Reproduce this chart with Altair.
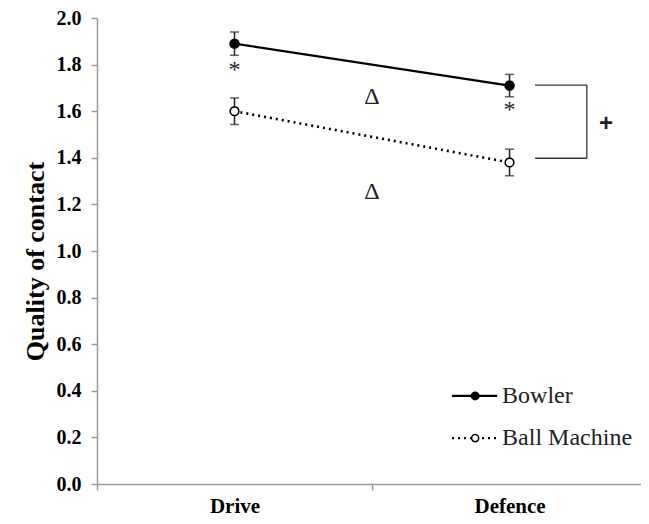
import altair as alt
import pandas as pd

# ---- data ----
tasks = ["Drive", "Defence"]
task_pos = [0.5, 1.5]            # band centres of the two tasks on the x axis
bowler_mean = [1.89, 1.71]
bowler_err = [0.05, 0.048]
machine_mean = [1.60, 1.38]
machine_err = [0.057, 0.057]
groups = ["Bowler", "Ball Machine"]

y_ticks = [0.0, 0.2, 0.4, 0.6, 0.8, 1.0, 1.2, 1.4, 1.6, 1.8, 2.0]

# annotations (text, x, y)
ann_text = ["*", "*", "\u0394", "\u0394"]
ann_x = [0.5, 1.5, 1.0, 1.0]
ann_y = [1.777, 1.605, 1.661, 1.253]

plus_x, plus_y = 1.851, 1.545
bracket_x1, bracket_x2 = 1.593, 1.781
bracket_y1, bracket_y2 = 1.712, 1.398

legend_y = [0.378, 0.197]
legend_x1, legend_xm, legend_x2, legend_xt = 1.291, 1.375, 1.455, 1.473

rows = []
for g, means, errs in [(groups[0], bowler_mean, bowler_err), (groups[1], machine_mean, machine_err)]:
    for t, p, m, e in zip(tasks, task_pos, means, errs):
        rows.append({"group": g, "task": t, "pos": p, "mean": m, "lo": m - e, "hi": m + e})
df = pd.DataFrame(rows)
bow = df[df.group == "Bowler"]
mac = df[df.group == "Ball Machine"]

SERIF = "Times New Roman"
AXC = "#9a9a9a"

xscale = alt.Scale(domain=[0, 1.978], nice=False, zero=False)
yscale = alt.Scale(domain=[0, 2], nice=False)

xaxis = alt.Axis(
    values=[0, 0.5, 1, 1.5],
    labelExpr="datum.value == 0.5 ? 'Drive' : (datum.value == 1.5 ? 'Defence' : '')",
    tickColor={"condition": {"test": "datum.value == 0.5 || datum.value == 1.5", "value": "transparent"}, "value": AXC},
    title=None, grid=False, labelFlush=False, labelOverlap=False,
    domainColor=AXC, domainWidth=1.5, tickWidth=1.5, tickSize=6,
    labelFont=SERIF, labelFontWeight="bold", labelFontSize=21, labelColor="black",
    labelPadding=5,
)
yaxis = alt.Axis(
    values=y_ticks, format=".1f", title="Quality of contact", grid=False,
    domainColor=AXC, domainWidth=1.5, tickColor=AXC, tickWidth=1.5, tickSize=6,
    labelFont=SERIF, labelFontWeight="bold", labelFontSize=20, labelColor="black",
    labelPadding=10, titleFont=SERIF, titleFontWeight="bold", titleFontSize=26,
    titleColor="black", titlePadding=8, titleY=243,
)

X = alt.X("pos:Q", scale=xscale, axis=xaxis)
Y = alt.Y("mean:Q", scale=yscale, axis=yaxis)

base_b = alt.Chart(bow)
base_m = alt.Chart(mac)

line_b = base_b.mark_line(color="black", strokeWidth=2.2).encode(x=X, y=Y)
line_m = base_m.mark_line(color="black", strokeWidth=2.6, strokeDash=[2, 4]).encode(x=X, y=Y)

err = alt.Chart(df).mark_rule(color="#222", strokeWidth=1.5).encode(
    x=alt.X("pos:Q", scale=xscale), y=alt.Y("lo:Q", scale=yscale), y2="hi:Q")
cap_lo = alt.Chart(df).mark_tick(color="#222", thickness=1.5, size=9, orient="horizontal").encode(
    x=alt.X("pos:Q", scale=xscale), y=alt.Y("lo:Q", scale=yscale))
cap_hi = alt.Chart(df).mark_tick(color="#222", thickness=1.5, size=9, orient="horizontal").encode(
    x=alt.X("pos:Q", scale=xscale), y=alt.Y("hi:Q", scale=yscale))

pt_b = base_b.mark_point(shape="circle", filled=True, color="black", size=110, opacity=1).encode(x=X, y=Y)
pt_m = base_m.mark_point(shape="circle", filled=True, fill="white", stroke="black", strokeWidth=1.6,
                         size=75, opacity=1).encode(x=X, y=Y)

ann_df = pd.DataFrame({"t": ann_text, "x": ann_x, "y": ann_y})
ann = alt.Chart(ann_df).mark_text(font=SERIF, fontSize=24, color="#222", baseline="middle").encode(
    x=alt.X("x:Q", scale=xscale), y=alt.Y("y:Q", scale=yscale), text="t:N")

plus = alt.Chart(pd.DataFrame({"x": [plus_x], "y": [plus_y], "t": ["+"]})).mark_text(
    font="Liberation Sans", fontSize=24, fontWeight="bold", color="#222", baseline="middle").encode(
    x=alt.X("x:Q", scale=xscale), y=alt.Y("y:Q", scale=yscale), text="t:N")

br_df = pd.DataFrame({
    "x": [bracket_x1, bracket_x1, bracket_x2],
    "x2": [bracket_x2, bracket_x2, bracket_x2],
    "y": [bracket_y1, bracket_y2, bracket_y2],
    "y2": [bracket_y1, bracket_y2, bracket_y1],
})
bracket = alt.Chart(br_df).mark_rule(color="#333", strokeWidth=1.3).encode(
    x=alt.X("x:Q", scale=xscale), x2="x2:Q", y=alt.Y("y:Q", scale=yscale), y2="y2:Q")

# legend
leg_df = pd.DataFrame({"g": groups, "y": legend_y, "x1": [legend_x1] * 2, "x2": [legend_x2] * 2,
                       "xm": [legend_xm] * 2, "xt": [legend_xt] * 2})
leg_line_b = alt.Chart(leg_df[leg_df.g == "Bowler"]).mark_rule(color="black", strokeWidth=2.2).encode(
    x=alt.X("x1:Q", scale=xscale), x2="x2:Q", y=alt.Y("y:Q", scale=yscale))
leg_line_m = alt.Chart(leg_df[leg_df.g == "Ball Machine"]).mark_rule(
    color="black", strokeWidth=2.2, strokeDash=[2, 4]).encode(
    x=alt.X("x1:Q", scale=xscale), x2="x2:Q", y=alt.Y("y:Q", scale=yscale))
leg_pt_b = alt.Chart(leg_df[leg_df.g == "Bowler"]).mark_point(
    shape="circle", filled=True, color="black", size=80, opacity=1).encode(
    x=alt.X("xm:Q", scale=xscale), y=alt.Y("y:Q", scale=yscale))
leg_pt_m = alt.Chart(leg_df[leg_df.g == "Ball Machine"]).mark_point(
    shape="circle", filled=True, fill="white", stroke="black", strokeWidth=1.5, size=50, opacity=1).encode(
    x=alt.X("xm:Q", scale=xscale), y=alt.Y("y:Q", scale=yscale))
leg_txt = alt.Chart(leg_df).mark_text(font=SERIF, fontSize=24, color="#222", align="left",
                                      baseline="middle").encode(
    x=alt.X("xt:Q", scale=xscale), y=alt.Y("y:Q", scale=yscale), text="g:N")

chart = alt.layer(
    line_b, line_m, err, cap_lo, cap_hi, pt_b, pt_m, ann, plus, bracket,
    leg_line_b, leg_line_m, leg_pt_b, leg_pt_m, leg_txt,
).properties(
    width=544, height=466,
    background="white",
    autosize=alt.AutoSizeParams(type="none"),
    padding={"left": 89, "top": 10, "right": 0, "bottom": 32},
).configure(font=SERIF).configure_view(strokeWidth=0)

chart.save("out.html", embed_options={"renderer": "svg", "actions": False})
